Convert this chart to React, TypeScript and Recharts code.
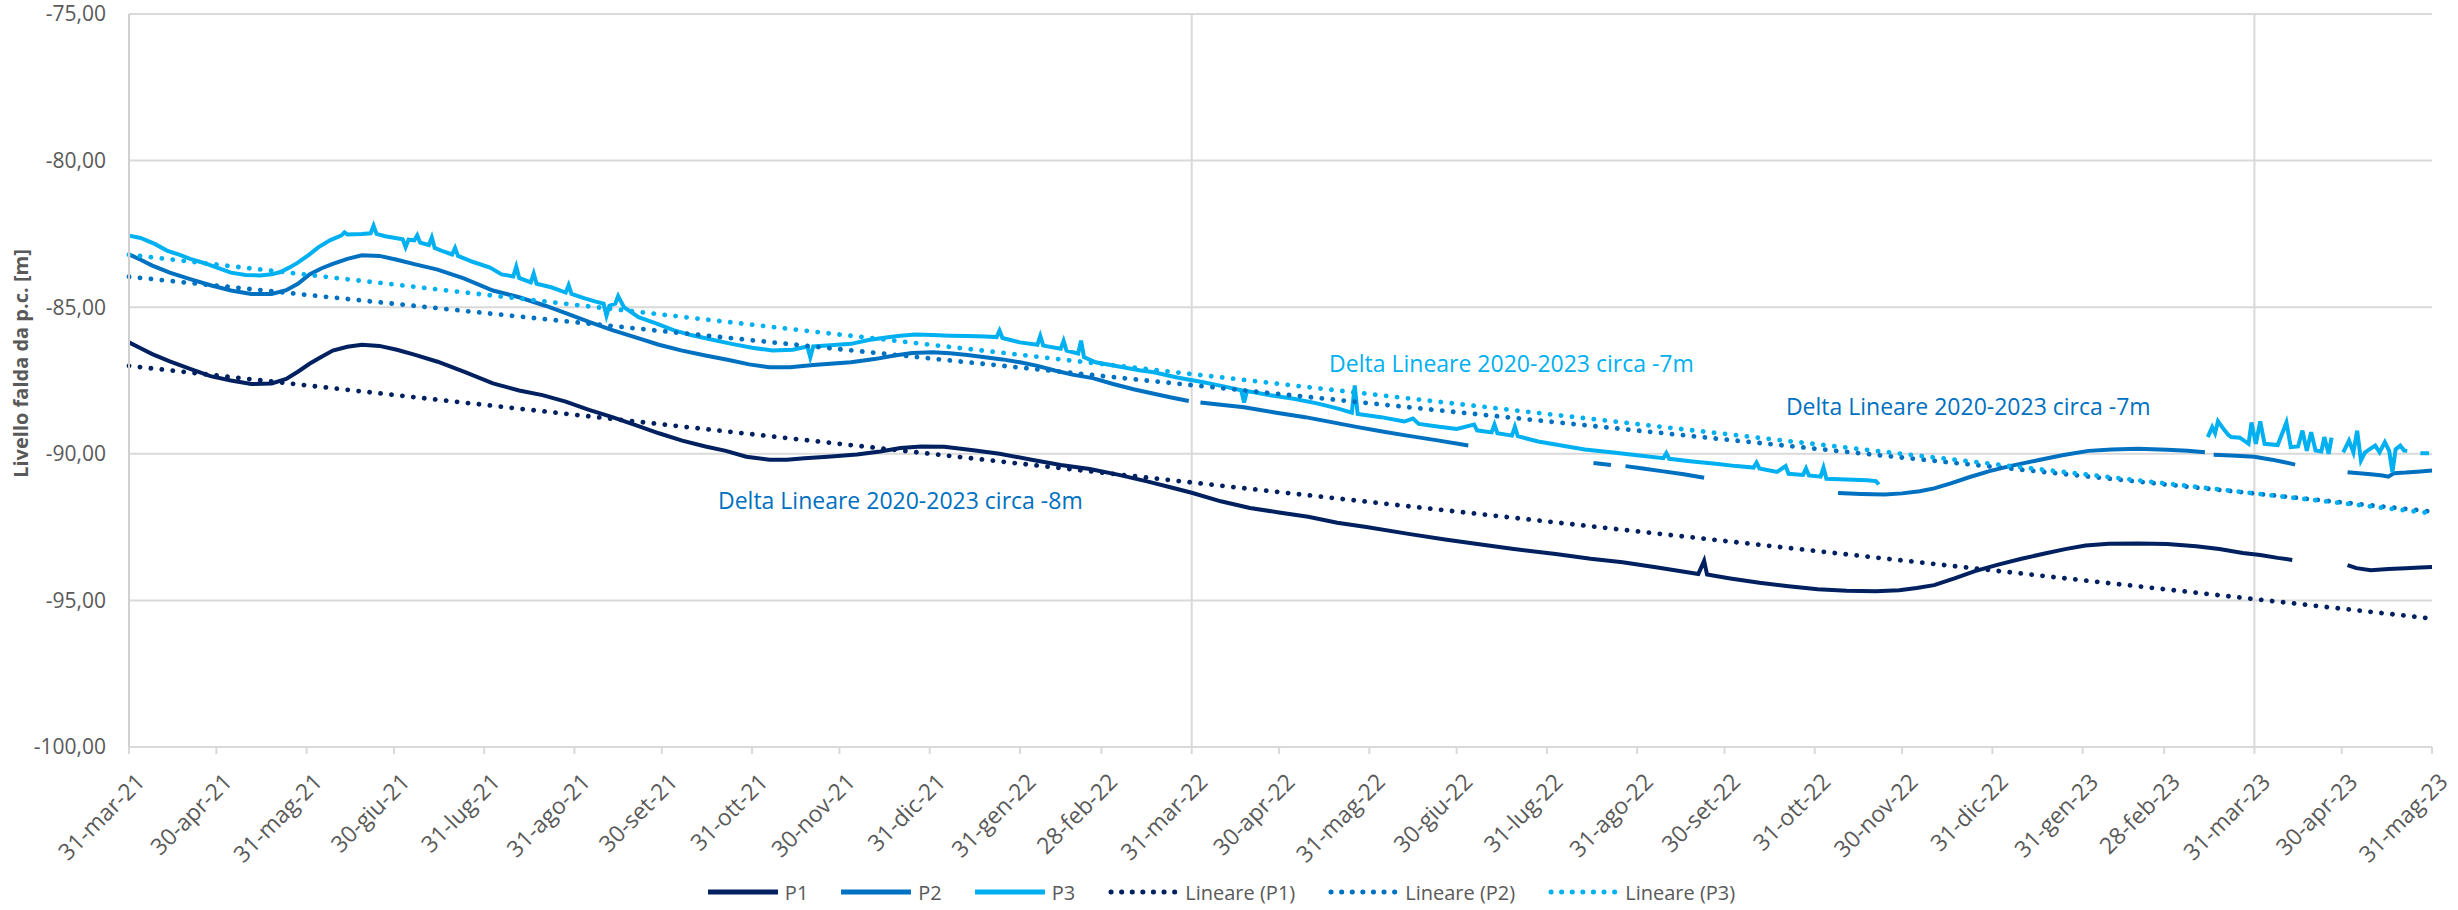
import React from 'react'
import {
  LineChart,
  Line,
  XAxis,
  YAxis,
  CartesianGrid,
  ReferenceLine,
  ReferenceDot,
  Legend,
} from 'recharts'

// giorni dal 31-mar-21 (fine mese)
const monthEndDays = [0, 30, 61, 91, 122, 153, 183, 214, 244, 275, 306, 334, 365, 395, 426, 456, 487, 518, 548, 579, 609, 640, 671, 699, 730, 760, 791]
const monthEndLabels = [
  '31-mar-21', '30-apr-21', '31-mag-21', '30-giu-21', '31-lug-21', '31-ago-21', '30-set-21', '31-ott-21', '30-nov-21',
  '31-dic-21', '31-gen-22', '28-feb-22', '31-mar-22', '30-apr-22', '31-mag-22', '30-giu-22', '31-lug-22', '31-ago-22',
  '30-set-22', '31-ott-22', '30-nov-22', '31-dic-22', '31-gen-23', '28-feb-23', '31-mar-23', '30-apr-23', '31-mag-23',
]
const yearLines = [365, 730]
const levelTicks = [-100, -95, -90, -85, -80, -75]

// [giorno, livello] - null = dato mancante
const p1: [number, number | null][] = [
  [0, -86.2], [4, -86.4], [8, -86.6], [14, -86.85], [21, -87.1], [28, -87.35], [35, -87.5], [42, -87.62], [49, -87.6],
  [54, -87.45], [58, -87.2], [62, -86.93], [66, -86.7], [70, -86.48], [75, -86.35], [80, -86.28], [86, -86.32],
  [92, -86.45], [98, -86.62], [106, -86.86], [115, -87.2], [125, -87.6], [134, -87.84], [142, -88.0], [150, -88.22],
  [158, -88.5], [166, -88.75], [174, -89.02], [182, -89.3], [190, -89.55], [198, -89.75], [205, -89.9], [212, -90.1],
  [220, -90.2], [226, -90.2], [232, -90.15], [240, -90.1], [250, -90.02], [258, -89.92], [265, -89.8], [272, -89.75],
  [280, -89.76], [290, -89.88], [299, -90.0], [310, -90.2], [320, -90.38], [330, -90.52], [340, -90.72], [350, -90.95],
  [358, -91.15], [365, -91.33], [375, -91.62], [385, -91.85], [395, -92.0], [405, -92.15], [415, -92.35], [425, -92.5],
  [440, -92.74], [452, -92.92], [465, -93.1], [475, -93.24], [490, -93.42], [502, -93.58], [513, -93.7], [525, -93.88],
  [539, -94.1], [541, -93.65], [542, -94.12], [550, -94.25], [560, -94.4], [570, -94.52], [580, -94.62], [590, -94.67],
  [600, -94.69], [608, -94.65], [614, -94.58], [620, -94.48], [627, -94.25], [634, -94.0], [642, -93.78], [650, -93.58],
  [658, -93.4], [665, -93.25], [672, -93.13], [680, -93.07], [690, -93.06], [700, -93.08], [710, -93.15], [718, -93.25],
  [726, -93.38], [732, -93.45], [738, -93.55], [743, -93.62], [744, null], [762, -93.8], [765, -93.9], [770, -93.97],
  [776, -93.93], [782, -93.9], [787, -93.88], [791, -93.86],
]

const p2: [number, number | null][] = [
  [0, -83.2], [4, -83.38], [8, -83.58], [14, -83.82], [21, -84.04], [28, -84.25], [35, -84.43], [42, -84.55], [49, -84.55],
  [54, -84.42], [58, -84.2], [62, -83.88], [66, -83.68], [70, -83.52], [75, -83.35], [80, -83.23], [86, -83.25],
  [92, -83.38], [98, -83.53], [106, -83.72], [115, -84.02], [125, -84.43], [134, -84.66], [143, -84.95], [150, -85.2],
  [158, -85.5], [166, -85.78], [174, -86.03], [182, -86.28], [190, -86.48], [198, -86.65], [206, -86.8], [213, -86.95],
  [220, -87.05], [227, -87.05], [235, -86.97], [242, -86.92], [248, -86.88], [256, -86.77], [263, -86.65], [269, -86.56],
  [276, -86.54], [282, -86.57], [288, -86.63], [294, -86.71], [300, -86.78], [306, -86.88], [312, -87.0], [318, -87.16],
  [324, -87.3], [331, -87.42], [338, -87.62], [345, -87.8], [352, -87.95], [358, -88.08], [364, -88.2], [365, null],
  [368, -88.25], [375, -88.33], [383, -88.41], [393, -88.58], [404, -88.75], [413, -88.92], [422, -89.09], [431, -89.25],
  [439, -89.38], [450, -89.55], [460, -89.72], [461, null], [503, -90.31], [509, -90.38], [512, null], [514, -90.42],
  [520, -90.5], [527, -90.6], [534, -90.7], [541, -90.82], [542, null], [587, -91.34], [595, -91.37], [603, -91.39],
  [609, -91.35], [615, -91.28], [620, -91.18], [626, -91.0], [632, -90.8], [639, -90.59], [646, -90.42], [656, -90.21],
  [664, -90.05], [673, -89.9], [681, -89.85], [690, -89.83], [700, -89.86], [707, -89.9], [713, -89.95], [714, null],
  [716, -90.03], [722, -90.06], [730, -90.1], [736, -90.2], [740, -90.28], [744, -90.37], [745, null], [762, -90.63],
  [766, -90.66], [770, -90.7], [774, -90.74], [776, -90.78], [778, -90.66], [782, -90.64], [787, -90.6], [791, -90.57],
]

const p3: [number, number | null][] = [
  [0, -82.56], [4, -82.64], [9, -82.85], [13, -83.07], [17, -83.2], [21, -83.35], [26, -83.5], [30, -83.64], [35, -83.82],
  [40, -83.9], [45, -83.92], [49, -83.88], [52, -83.8], [55, -83.65], [58, -83.48], [62, -83.2], [65, -82.96], [69, -82.72],
  [73, -82.55], [74, -82.45], [75, -82.52], [80, -82.5], [83, -82.48], [84, -82.22], [85, -82.5], [88, -82.58], [92, -82.65],
  [94, -82.68], [95, -82.95], [96, -82.7], [98, -82.72], [99, -82.55], [100, -82.8], [103, -82.88], [104, -82.62],
  [105, -82.98], [108, -83.1], [111, -83.2], [112, -82.98], [113, -83.25], [118, -83.45], [124, -83.65], [128, -83.88],
  [132, -83.95], [133, -83.62], [134, -84.0], [138, -84.15], [139, -83.85], [140, -84.2], [145, -84.32], [150, -84.5],
  [151, -84.25], [152, -84.55], [156, -84.68], [160, -84.8], [163, -84.88], [164, -85.29], [165, -84.95], [167, -84.88],
  [168, -84.62], [170, -85.0], [175, -85.34], [181, -85.55], [187, -85.78], [193, -85.95], [200, -86.1], [207, -86.25],
  [214, -86.38], [221, -86.48], [228, -86.45], [233, -86.34], [234, -86.71], [235, -86.34], [241, -86.3], [248, -86.25],
  [254, -86.12], [260, -86.03], [265, -85.97], [270, -85.93], [276, -85.95], [282, -85.97], [288, -85.98], [294, -86.0],
  [298, -86.02], [299, -85.8], [300, -86.05], [306, -86.2], [312, -86.28], [313, -85.98], [314, -86.31], [320, -86.42],
  [321, -86.15], [322, -86.48], [326, -86.58], [327, -86.14], [328, -86.7], [332, -86.88], [340, -87.02], [347, -87.15],
  [352, -87.22], [360, -87.4], [369, -87.56], [376, -87.7], [382, -87.83], [383, -88.25], [384, -87.86], [392, -88.0],
  [400, -88.12], [408, -88.28], [415, -88.45], [420, -88.6], [421, -87.67], [422, -88.64], [430, -88.75], [438, -88.9],
  [441, -88.8], [443, -88.98], [450, -89.08], [456, -89.15], [462, -89.0], [463, -89.2], [468, -89.27], [469, -89.0],
  [470, -89.3], [475, -89.38], [476, -89.08], [477, -89.4], [484, -89.58], [492, -89.72], [500, -89.85], [509, -89.95],
  [518, -90.05], [527, -90.15], [528, -89.98], [529, -90.17], [537, -90.26], [545, -90.34], [552, -90.42], [558, -90.47],
  [559, -90.3], [560, -90.5], [566, -90.62], [569, -90.42], [570, -90.68], [575, -90.72], [576, -90.5], [577, -90.74],
  [581, -90.78], [582, -90.47], [583, -90.85], [590, -90.88], [597, -90.9], [600, -90.93], [601, -91.05], [602, null],
  [714, -89.43], [715.5, -89.09], [716.5, -89.3], [717.5, -88.89], [719, -89.1], [721, -89.35], [722, -89.43], [725, -89.45],
  [728, -89.66], [729, -88.93], [730.5, -89.66], [732, -88.89], [733.5, -89.66], [738, -89.7], [741, -88.93], [742.5, -89.77],
  [745, -89.75], [746.5, -89.21], [748, -89.9], [749.5, -89.26], [751, -89.89], [753, -89.92], [754, -89.43], [755.5, -90.0],
  [756.5, -89.45], [757, null], [760.5, -89.95], [762.5, -89.55], [764, -89.95], [765.3, -89.21], [766.6, -90.23],
  [768, -89.95], [771.5, -89.72], [773, -89.95], [774.8, -89.6], [776.3, -89.9], [777.4, -90.63], [778.5, -89.85],
  [780.1, -89.72], [781.4, -89.89], [782.5, -89.9], [783, null], [787, -89.98], [790, -89.98],
]

// linee di tendenza lineari (estremi)
const trendP1: [number, number][] = [[0, -87.0], [791, -95.62]]
const trendP2: [number, number][] = [[0, -83.96], [791, -91.97]]
const trendP3: [number, number][] = [[0, -83.21], [791, -92.03]]

const notes = [
  { day: 202.3, level: -91.59, text: 'Delta Lineare 2020-2023 circa -8m', color: '#0070C0' },
  { day: 412.2, level: -86.93, text: 'Delta Lineare 2020-2023 circa -7m', color: '#00B0F0' },
  { day: 569.1, level: -88.39, text: 'Delta Lineare 2020-2023 circa -7m', color: '#0070C0' },
]

const C1 = '#002060'
const C2 = '#0070C0'
const C3 = '#00B0F0'
const GRID = '#D9D9D9'
const TXT = '#595959'
const FONT = '"Open Sans", sans-serif'

const toRows = (pts: [number, number | null][]) => pts.map(([d, v]) => ({ d, v }))

const legendItems = [
  { name: 'P1', color: C1, dotted: false },
  { name: 'P2', color: C2, dotted: false },
  { name: 'P3', color: C3, dotted: false },
  { name: 'Lineare (P1)', color: C1, dotted: true },
  { name: 'Lineare (P2)', color: C2, dotted: true },
  { name: 'Lineare (P3)', color: C3, dotted: true },
]

const XTick = ({ x, y, payload }: any) => {
  const i = monthEndDays.indexOf(payload.value)
  const tx = x + 6
  return (
    <text
      x={tx}
      y={y}
      dy={16}
      textAnchor="end"
      transform={`rotate(-45 ${tx} ${y})`}
      fill={TXT}
      fontSize={23}
      fontFamily={FONT}
    >
      {monthEndLabels[i]}
    </text>
  )
}

const LegendBox = () => (
  <div
    style={{
      height: 36,
      display: 'flex',
      justifyContent: 'center',
      alignItems: 'center',
      paddingLeft: 18,
      fontFamily: FONT,
      fontSize: 20,
      color: TXT,
    }}
  >
    {legendItems.map((it) => (
      <div key={it.name} style={{ display: 'flex', alignItems: 'center', marginRight: 33 }}>
        <svg width={70} height={10} style={{ marginRight: 7 }}>
          {it.dotted ? (
            <line x1={3} y1={5} x2={67} y2={5} stroke={it.color} strokeWidth={5} strokeDasharray="0.1 10.5" strokeLinecap="round" />
          ) : (
            <line x1={0} y1={5} x2={70} y2={5} stroke={it.color} strokeWidth={5} />
          )}
        </svg>
        <span>{it.name}</span>
      </div>
    ))}
  </div>
)

function YTitleLabel({ viewBox }: any) {
  const cx = 20
  const cy = viewBox.y + viewBox.height / 2 - 17
  return (
    <text
      x={cx}
      y={cy}
      transform={`rotate(-90 ${cx} ${cy})`}
      textAnchor="middle"
      dominantBaseline="central"
      fill={TXT}
      fontSize={20}
      fontWeight="bold"
      fontFamily={FONT}
    >
      Livello falda da p.c. [m]
    </text>
  )
}

export default function App() {
  const solid = { type: 'linear' as const, strokeWidth: 4, dot: false, activeDot: false, isAnimationActive: false, dataKey: 'v', connectNulls: false }
  const dotted = { type: 'linear' as const, strokeWidth: 4.8, strokeDasharray: '0.1 10.9', strokeLinecap: 'round' as const, dot: false, activeDot: false, isAnimationActive: false, dataKey: 'v', legendType: 'none' as const }
  return (
    <div style={{ position: 'absolute', left: 0, top: 0, width: 2458, height: 910, background: '#fff' }}>
      <LineChart width={2458} height={910} margin={{ top: 14, right: 26, left: 0, bottom: 0 }}>
        <CartesianGrid vertical={false} stroke={GRID} strokeWidth={2} />
        <XAxis
          dataKey="d"
          type="number"
          domain={[0, 791]}
          ticks={monthEndDays}
          interval={0}
          allowDuplicatedCategory={false}
          height={127}
          tickSize={7}
          tickMargin={18}
          tick={<XTick />}
          axisLine={{ stroke: GRID, strokeWidth: 2 }}
          tickLine={{ stroke: GRID, strokeWidth: 2 }}
        />
        <YAxis
          type="number"
          domain={[-100, -75]}
          ticks={levelTicks}
          interval={0}
          width={129}
          tickSize={0}
          tickMargin={23}
          tickFormatter={(v: number) => v.toFixed(2).replace('.', ',')}
          tick={{ fill: TXT, fontSize: 21, fontFamily: FONT }}
          axisLine={{ stroke: '#D0D0D0', strokeWidth: 2 }}
          tickLine={false}
          label={<YTitleLabel />}
        />
        {yearLines.map((d) => (
          <ReferenceLine key={d} x={d} stroke={GRID} strokeWidth={2} />
        ))}
        <Line {...solid} data={toRows(p1)} stroke={C1} name="P1" />
        <Line {...solid} data={toRows(p2)} stroke={C2} name="P2" />
        <Line {...solid} data={toRows(p3)} stroke={C3} name="P3" />
        <Line {...dotted} data={toRows(trendP1)} stroke={C1} name="Lineare (P1)" />
        <Line {...dotted} data={toRows(trendP2)} stroke={C2} name="Lineare (P2)" />
        <Line {...dotted} data={toRows(trendP3)} stroke={C3} name="Lineare (P3)" />
        {notes.map((n, i) => (
          <ReferenceDot
            key={i}
            x={n.day}
            y={n.level}
            r={0}
            fill="none"
            stroke="none"
            label={{ value: n.text, position: 'right', offset: 0, fill: n.color, fontSize: 23, fontFamily: FONT }}
          />
        ))}
        <Legend
          verticalAlign="bottom"
          align="center"
          content={<LegendBox />}
          wrapperStyle={{ left: 0, width: 2458, bottom: 0 }}
        />
      </LineChart>
    </div>
  )
}
